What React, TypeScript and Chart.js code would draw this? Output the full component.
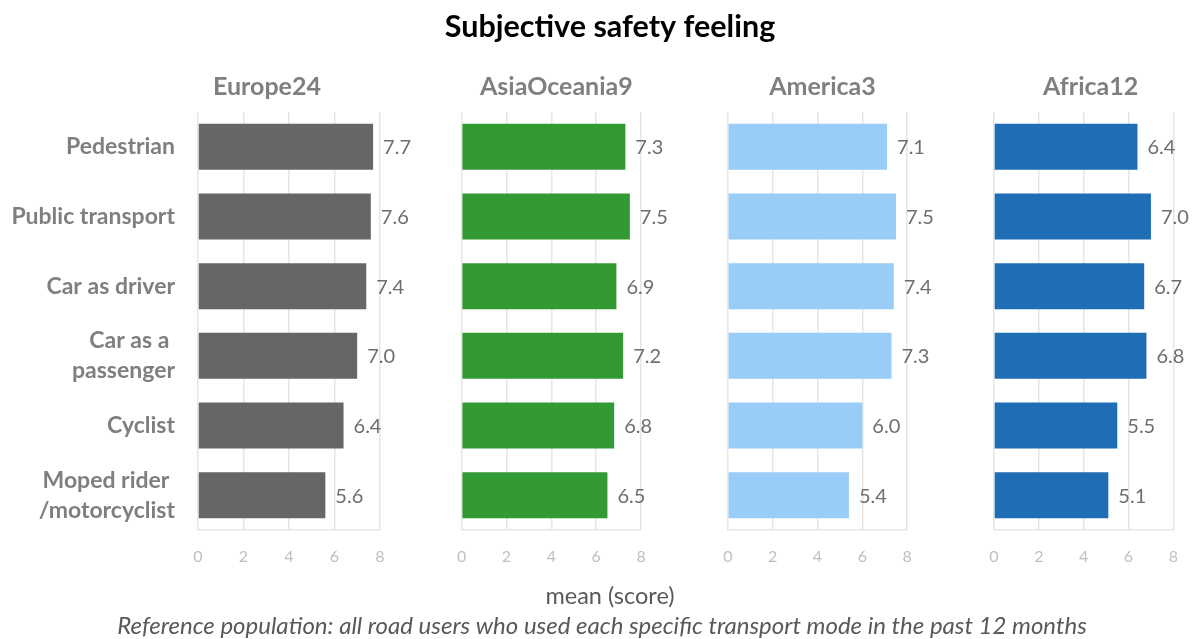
import { useEffect, useRef } from "react";
import { Chart, registerables } from "chart.js";

Chart.register(...registerables);

const chartTitle = "Subjective safety feeling";
const axisTitle = "mean (score)";
const footnote = "Reference population: all road users who used each specific transport mode in the past 12 months";

const categories: string[][] = [
  ["Pedestrian"],
  ["Public transport"],
  ["Car as driver"],
  ["Car as a ", "passenger"],
  ["Cyclist"],
  ["Moped rider ", "/motorcyclist"],
];
const regions = ["Europe24", "AsiaOceania9", "America3", "Africa12"];
const europe24 = [7.7, 7.6, 7.4, 7.0, 6.4, 5.6];
const asiaOceania9 = [7.3, 7.5, 6.9, 7.2, 6.8, 6.5];
const america3 = [7.1, 7.5, 7.4, 7.3, 6.0, 5.4];
const africa12 = [6.4, 7.0, 6.7, 6.8, 5.5, 5.1];
const xTicks = [0, 2, 4, 6, 8];

const seriesValues = [europe24, asiaOceania9, america3, africa12];
const colors = ["#666666", "#339933", "#99CCF6", "#1F6DB5"];
const FONT = "Lato, 'Open Sans', 'DejaVu Sans', sans-serif";

const textPlugin = {
  id: "textPlugin",
  afterDraw(chart: any) {
    const ctx = chart.ctx as CanvasRenderingContext2D;
    ctx.save();
    // data labels
    ctx.font = `20px ${FONT}`;
    ctx.fillStyle = "#6e6e6e";
    ctx.textAlign = "left";
    ctx.textBaseline = "middle";
    chart.data.datasets.forEach((ds: any, i: number) => {
      const meta = chart.getDatasetMeta(i);
      meta.data.forEach((el: any, j: number) => {
        ctx.fillText(Number(ds.data[j]).toFixed(1), el.x + 10, el.y + 1);
      });
    });
    // panel titles
    ctx.font = `bold 25px ${FONT}`;
    ctx.fillStyle = "#7f7f7f";
    ctx.textAlign = "center";
    regions.forEach((r, i) => {
      const s = chart.scales["x" + (i + 1)];
      const shift = i === 0 ? -22 : i === 3 ? 7 : 5;
      ctx.fillText(r, (s.left + s.right) / 2 + shift, 87);
    });
    // main title
    ctx.font = `bold 30.5px ${FONT}`;
    ctx.fillStyle = "#000000";
    ctx.fillText(chartTitle, 610, 27);
    // axis title
    ctx.font = `23.5px ${FONT}`;
    ctx.fillStyle = "#595959";
    ctx.fillText(axisTitle, 610, 596);
    // footnote
    ctx.font = `italic 24px ${FONT}`;
    ctx.fillText(footnote, 602, 626);
    ctx.restore();
  },
};

export default function App() {
  const ref = useRef<HTMLCanvasElement | null>(null);

  useEffect(() => {
    if (!ref.current) return;
    const panelWeights = [182.5, 180, 180, 180];
    const gapWeights = [82, 87, 87];
    const scales: any = {
      y: {
        type: "category",
        position: "left",
        grid: { display: false, drawTicks: false },
        border: { display: false },
        ticks: {
          color: "#7f7f7f",
          padding: 23,
          font: { family: FONT, size: 23, weight: "bold", lineHeight: 1.3 },
        },
        afterFit: (s: any) => {
          s.width = 198;
        },
      },
    };
    for (let i = 0; i < 4; i++) {
      scales["x" + (i + 1)] = {
        type: "linear",
        position: "bottom",
        stack: "panels",
        stackWeight: panelWeights[i],
        min: 0,
        max: 8,
        grid: { color: "#e6e6e6", lineWidth: 1.5, drawTicks: false },
        border: { display: true, color: "#e6e6e6", width: 1.5 },
        ticks: {
          color: "#bfbfbf",
          padding: 17,
          font: { family: FONT, size: 16 },
        },
        afterBuildTicks: (s: any) => {
          s.ticks = xTicks.map((v) => ({ value: v }));
        },
        afterFit: (s: any) => {
          s.height = 109;
        },
      };
      if (i < 3) {
        scales["xg" + (i + 1)] = {
          type: "linear",
          position: "bottom",
          stack: "panels",
          stackWeight: gapWeights[i],
          grid: { display: false, drawTicks: false },
          border: { display: false },
          ticks: { display: false },
        };
      }
    }
    const ordered: any = {};
    ["y", "x1", "xg1", "x2", "xg2", "x3", "xg3", "x4"].forEach((k) => (ordered[k] = scales[k]));

    const chart = new Chart(ref.current, {
      type: "bar",
      data: {
        labels: categories,
        datasets: seriesValues.map((vals, i) => ({
          label: regions[i],
          data: vals,
          xAxisID: "x" + (i + 1),
          yAxisID: "y",
          backgroundColor: colors[i],
          borderWidth: 0,
          grouped: false,
          categoryPercentage: 1,
          barPercentage: 0.66,
        })),
      },
      options: {
        indexAxis: "y",
        animation: false,
        responsive: true,
        maintainAspectRatio: false,
        layout: { padding: { top: 112, right: 17, left: 0, bottom: 0 } },
        plugins: {
          legend: { display: false },
          title: { display: false },
          tooltip: { enabled: false },
        },
        scales: ordered,
      },
      plugins: [textPlugin],
    } as any);
    return () => chart.destroy();
  }, []);

  return (
    <div style={{ position: "fixed", left: 0, top: 0, width: 1195, height: 639, background: "#fff" }}>
      <canvas ref={ref} />
    </div>
  );
}
